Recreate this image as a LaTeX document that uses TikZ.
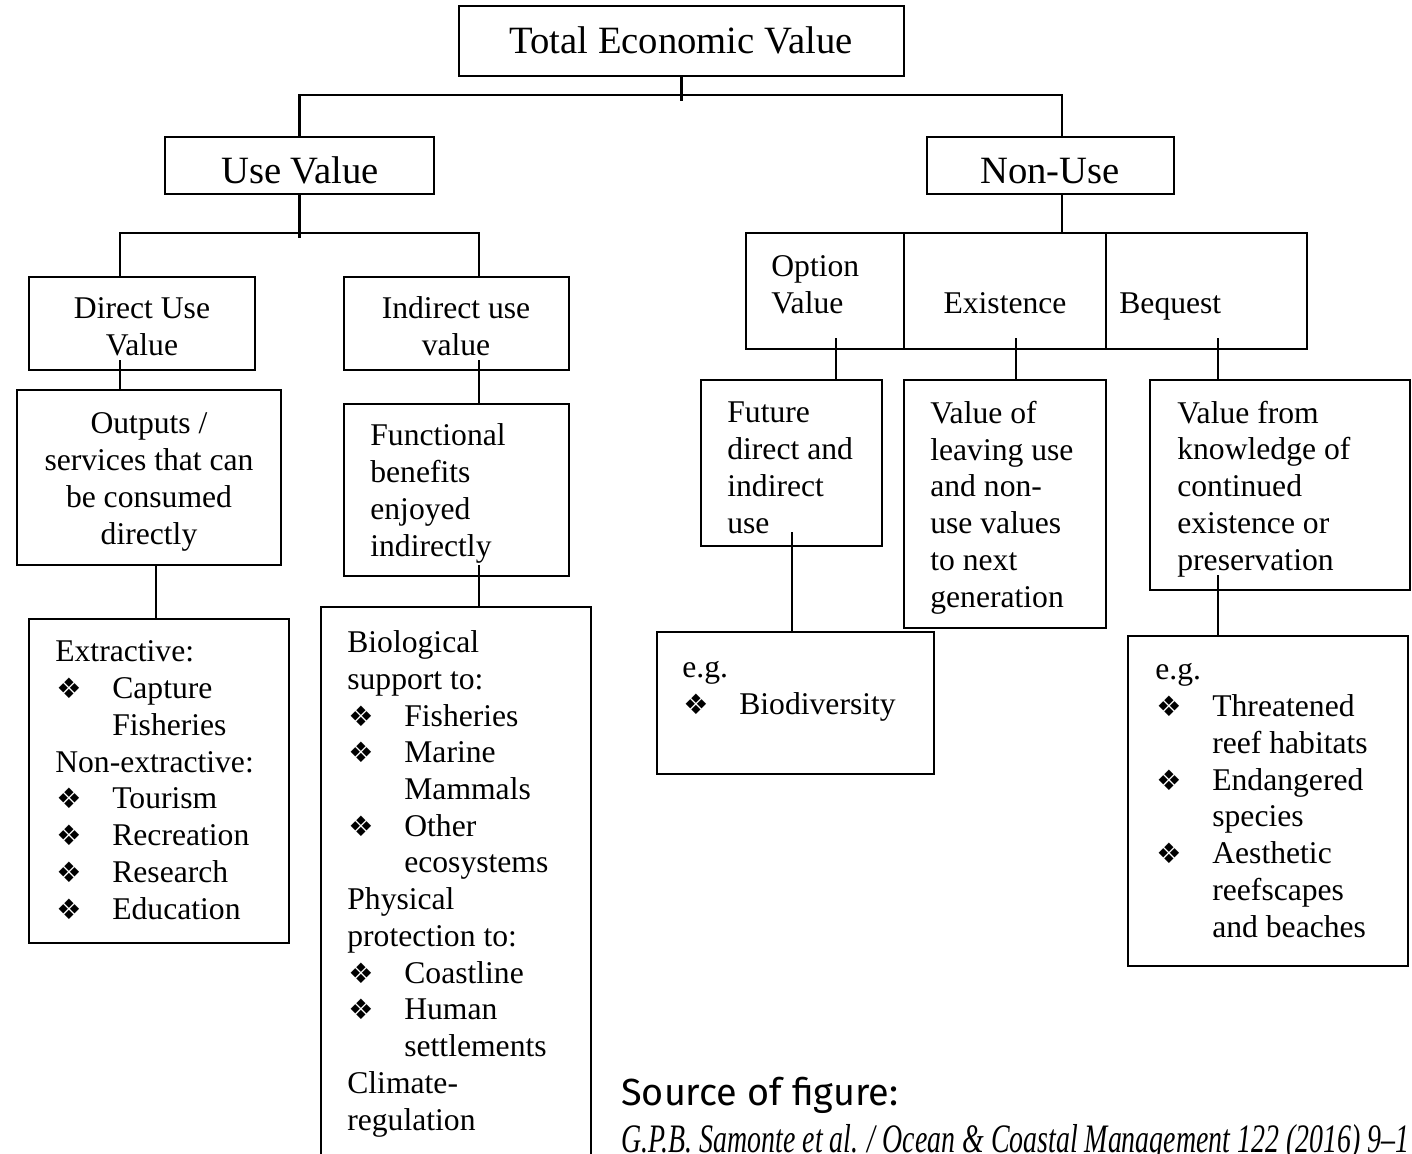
\documentclass[tikz,border=0pt]{standalone}
\usepackage{fontspec}
\setmainfont{Liberation Serif}
\newfontfamily\srcfont{Fira Sans}
\newfontfamily\symfont{DejaVu Sans}
\usetikzlibrary{fit}
\newcommand{\bul}{\makebox[1.14cm][l]{\hspace{0.02cm}{\symfont\fontsize{16}{16}\selectfont ❖}}}
\newcommand{\ind}{\hspace*{1.14cm}}
\tikzset{
  dob/.style={draw,line width=1.3pt,inner sep=0pt},
  ttl/.style={anchor=base,inner sep=0pt,font=\fontsize{22}{25}\selectfont},
  ctxt/.style={anchor=base,align=center,inner sep=0pt},
  txt/.style={anchor=base west,align=left,inner sep=0pt},
  ag/.style={line width=1.3pt},
}

\begin{document}
\begin{tikzpicture}[x=0.02cm,y=-0.02cm,font=\fontsize{18}{20.9}\selectfont]
  \useasboundingbox (0,0) rectangle (1412,1153);
  \clip (0,0) rectangle (1412,1153);
  % top levels
  \node[dob,fit={(459,6)(904,76)}] (tev) {};
  \node[dob,fit={(165,137)(434,194)}] (use) {};
  \node[dob,fit={(927,137)(1174,194)}] (nonuse) {};
  % use value side
  \node[dob,fit={(29,277)(255,370)}] (direct) {};
  \node[dob,fit={(344,277)(569,370)}] (indirect) {};
  \node[dob,fit={(17,390)(281,565)}] (outputs) {};
  \node[dob,fit={(344,404)(569,576)}] (funct) {};
  \node[dob,fit={(29,619)(289,943)}] (extr) {};
  \node[dob,fit={(321,607)(591,1175)}] (bio) {};
  % non-use side
  \node[dob,fit={(746,233)(904,349)}] (option) {};
  \node[dob,fit={(904,233)(1106,349)}] (exist) {};
  \node[dob,fit={(1106,233)(1307,349)}] (beq) {};
  \node[dob,fit={(701,380)(882,546)}] (future) {};
  \node[dob,fit={(904,380)(1106,628)}] (leave) {};
  \node[dob,fit={(1150,380)(1410,590)}] (knowl) {};
  \node[dob,fit={(657,632)(934,774)}] (egbio) {};
  \node[dob,fit={(1128,636)(1408,966)}] (egreef) {};

  % texts (y = baseline of the last line)
  \node[ttl] (tevt) at (681,53) {Total Economic Value};
  \node[ttl] (uset) at (300,183) {Use Value};
  \node[ttl] (nonuset) at (1050,183) {Non-Use};
  \node[ctxt] (directt) at (142,355) {Direct Use\\Value};
  \node[ctxt] (indirectt) at (456,355) {Indirect use\\value};
  \node[ctxt] (outputst) at (149,544) {Outputs /\\services that can\\be consumed\\directly};
  \node[txt] (functt) at (370,556) {Functional\\benefits\\enjoyed\\indirectly};
  \node[txt] (extrt) at (55,919) {Extractive:\\\bul Capture\\\ind Fisheries\\Non-extractive:\\\bul Tourism\\\bul Recreation\\\bul Research\\\bul Education};
  \node[txt] (biot) at (347,1130) {Biological\\support to:\\\bul Fisheries\\\bul Marine\\\ind Mammals\\\bul Other\\\ind ecosystems\\Physical\\protection to:\\\bul Coastline\\\bul Human\\\ind settlements\\Climate-\\regulation};
  \node[txt] (optt) at (771,313) {Option\\Value};
  \node[ctxt] (existt) at (1005,313) {Existence};
  \node[txt] (beqt) at (1119,313) {Bequest};
  \node[txt] (futt) at (727,533) {Future\\direct and\\indirect\\use};
  \node[txt] (leavet) at (930,607) {Value of\\leaving use\\and non-\\use values\\to next\\generation};
  \node[txt] (knowlt) at (1177,570) {Value from\\knowledge of\\continued\\existence or\\preservation};
  \node[txt] (egbiot) at (682,714) {e.g.\\\bul Biodiversity};
  \node[txt] (egreeft) at (1155,937) {e.g.\\\bul Threatened\\\ind reef habitats\\\bul Endangered\\\ind species\\\bul Aesthetic\\\ind reefscapes\\\ind and beaches};

  % connectors
  \coordinate (kn) at (1062,95);
  \coordinate (ku) at (300,233);
  \draw[ag] (tev.south) -- ++(0,24);
  \draw[ag] (use.north) |- (kn) -- (kn |- nonuse.north);
  \draw[ag] (use.south) -- ++(0,43);
  \coordinate (sdir) at (120,360);
  \coordinate (sind) at (479,360);
  \draw[ag] (direct.north -| sdir) |- (ku) -| (indirect.north -| sind);
  \draw[ag] (nonuse.south -| kn) -- (kn |- option.north);
  \coordinate (sout) at (156,565);
  \coordinate (sfun) at (479,565);
  \coordinate (sopt) at (836,338);
  \coordinate (sexi) at (1016,338);
  \coordinate (sbeq) at (1218,338);
  \coordinate (sfut) at (792,532);
  \coordinate (skno) at (1218,575);
  \draw[ag] (sdir) -- (sdir |- outputs.north);
  \draw[ag] (sind) -- (sind |- funct.north);
  \draw[ag] (sout) -- (sout |- extr.north);
  \draw[ag] (sfun) -- (sfun |- bio.north);
  \draw[ag] (sopt) -- (sopt |- future.north);
  \draw[ag] (sexi) -- (sexi |- leave.north);
  \draw[ag] (sbeq) -- (sbeq |- knowl.north);
  \draw[ag] (sfut) -- (sfut |- egbio.north);
  \draw[ag] (skno) -- (skno |- egreef.north);

  % source
  \node[anchor=base west,inner sep=0pt,font=\srcfont\fontsize{21.5}{21.5}\selectfont] (src) at (621,1105) {Source of figure:};
  \node[anchor=base west,inner sep=0pt] (cite) at (621,1152)
    {\scalebox{0.69}[1]{\itshape\fontsize{23}{23}\selectfont G.P.B. Samonte et al. / Ocean \& Coastal Management 122 (2016) 9--1}};
\end{tikzpicture}
\end{document}
